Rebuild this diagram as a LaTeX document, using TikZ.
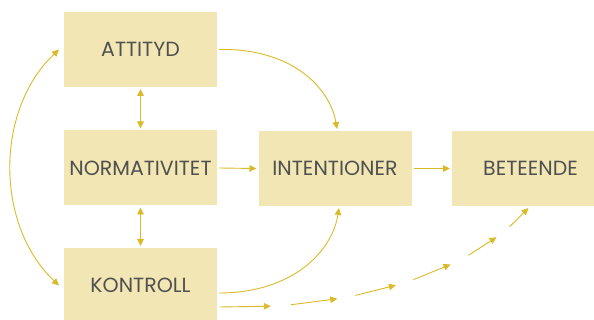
\documentclass[tikz,border=0pt]{standalone}
\usepackage{fontspec}
\setmainfont{Poppins}
\usetikzlibrary{arrows.meta,calc,decorations.markings}
\definecolor{boxfill}{RGB}{242,231,180}
\definecolor{arrowgold}{RGB}{218,186,40}
\definecolor{txtgray}{RGB}{80,80,80}
\begin{document}
\begin{tikzpicture}[x=1pt,y=-1pt,
  box/.style={fill=boxfill,draw=none,minimum width=153pt,minimum height=75pt,inner sep=0pt,outer sep=2pt,
    text=txtgray,font=\fontsize{20.5}{24}\selectfont},
  arr/.style={draw=arrowgold,line width=0.9pt,-{Triangle[length=7pt,width=6.5pt]}},
  darr/.style={draw=arrowgold,line width=0.9pt,{Triangle[length=7pt,width=6.5pt]}-{Triangle[length=7pt,width=6.5pt]}}
]
\useasboundingbox (0,0) rectangle (594,320);
\node[box] (att) at (140.5,49.5) {ATTITYD};
\node[box] (norm) at (140.5,168) {NORMATIVITET};
\node[box] (kon) at (140.5,285.5) {KONTROLL};
\node[box] (int) at (335,168.5) {INTENTIONER};
\node[box] (bet) at (528.5,168.5) {\hspace*{4pt}BETEENDE};

\draw[darr] (att.south) -- (norm.north);
\draw[darr] (norm.south) -- (kon.north);
\draw[arr] (norm.east) -- (int.west);
\draw[arr] (int.east) -- (bet.west);

\draw[darr] ([shift={(-3,0)}]att.west) .. controls (-5,110) and (-5,225) .. ([shift={(-3,0)}]kon.west);
\draw[arr] (att.east) .. controls (292,48) and (330,88) .. ([xshift=2pt]int.north);
\draw[arr] ([yshift=-7.5pt]kon.east) .. controls (292,293) and (332,252) .. ([xshift=4pt]int.south);

\path[decoration={markings,
  mark=at position 0.001 with {\coordinate (d0);},
  mark=at position 0.155 with {\coordinate (d1);},
  mark=at position 0.215 with {\coordinate (d2);},
  mark=at position 0.355 with {\coordinate (d3);},
  mark=at position 0.41 with {\coordinate (d4);},
  mark=at position 0.535 with {\coordinate (d5);},
  mark=at position 0.59 with {\coordinate (d6);},
  mark=at position 0.71 with {\coordinate (d7);},
  mark=at position 0.77 with {\coordinate (d8);},
  mark=at position 0.87 with {\coordinate (d9);},
  mark=at position 0.92 with {\coordinate (d10);}},
  decorate]
  ([yshift=-21.5pt]kon.east) .. controls (350,310) and (470,275) .. (bet.south);
\draw[arr] (d0) -- (d1);
\draw[arr] (d2) -- (d3);
\draw[arr] (d4) -- (d5);
\draw[arr] (d6) -- (d7);
\draw[arr] (d8) -- (d9);
\draw[arr] (d10) -- (bet.south);
\end{tikzpicture}
\end{document}
